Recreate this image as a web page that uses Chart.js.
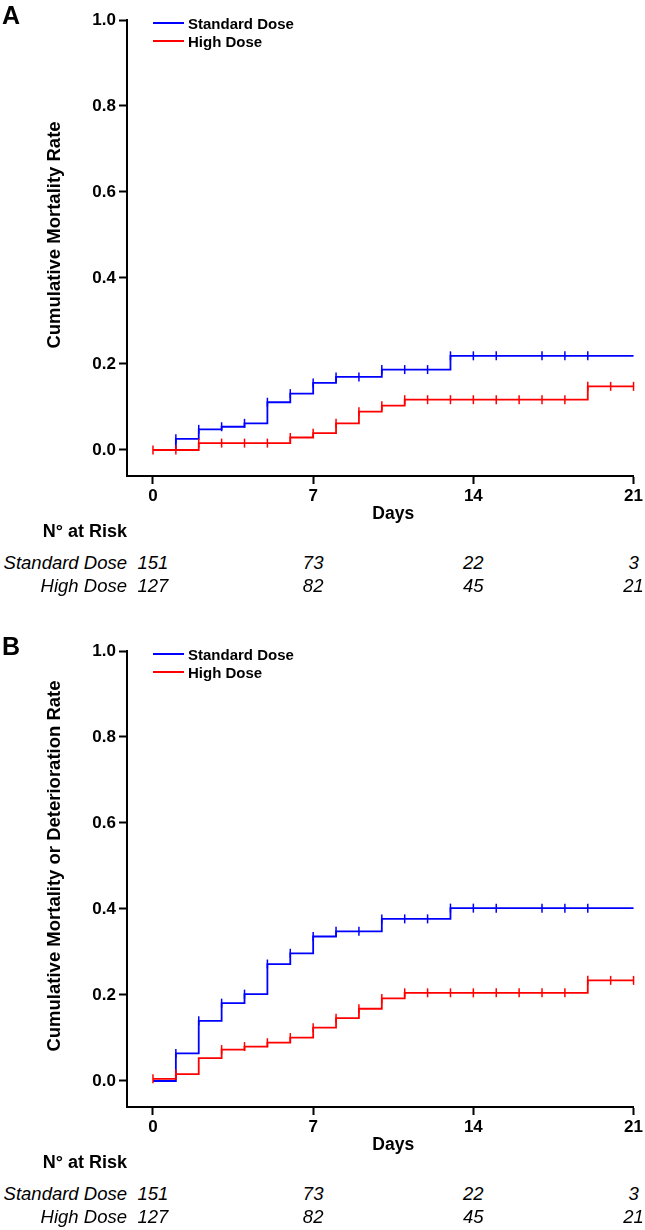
<!DOCTYPE html>
<html>
<head>
<meta charset="utf-8">
<title>Cumulative mortality by dose</title>
<script src="https://cdn.jsdelivr.net/npm/chart.js@4.4.1/dist/chart.umd.min.js"></script>
<style>
  body { margin: 0; background: #fff; color: #000; font-family: "Liberation Sans", Arial, sans-serif; }
  #page { position: relative; width: 645px; height: 1230px; overflow: hidden; }
  .panel { position: absolute; left: 0; width: 645px; height: 600px; }
  .panel canvas { position: absolute; left: 0; top: 0; }
  .letter { position: absolute; left: 2px; top: 2px; font-size: 25px; line-height: 26px; font-weight: bold; }
  .legend-row { position: absolute; left: 153px; height: 18px; display: flex; align-items: center;
                font-size: 15px; font-weight: bold; white-space: nowrap; }
  .legend-row i { display: inline-block; width: 31px; height: 2px; margin-right: 4px; }
  .risk-title { position: absolute; right: 518px; font-size: 18px; line-height: 20px; font-weight: bold; white-space: nowrap; }
  .risk-label { position: absolute; right: 518px; font-size: 18.5px; line-height: 20px; font-style: italic; white-space: nowrap; }
  .risk-num { position: absolute; width: 60px; text-align: center; font-size: 18.5px; line-height: 20px; font-style: italic; }
</style>
</head>
<body>
<div id="page">
  <div class="panel" id="panelA" style="top:0px">
    <canvas id="chartA" width="645" height="530"></canvas>
    <div class="letter">A</div>
  </div>
  <div class="panel" id="panelB" style="top:631px">
    <canvas id="chartB" width="645" height="530"></canvas>
    <div class="letter">B</div>
  </div>
</div>
<script>
// Axis ticks
const xTicks = [0, 7, 14, 21];
const yTicks = [0, 0.2, 0.4, 0.6, 0.8, 1.0];
const seriesNames = ['Standard Dose', 'High Dose'];
const seriesColors = ['#0000ff', '#ff0000'];

// Panel A - cumulative mortality (step times and values)
const stdDaysA = [0, 1, 2, 3, 4, 5, 6, 7, 8, 10, 13, 21];
const stdRateA = [0, 0.026, 0.048, 0.054, 0.062, 0.111, 0.131, 0.156, 0.170, 0.187, 0.219, 0.219];
const stdCensorA = [1, 2, 3, 4, 5, 6, 7, 8, 9, 10, 11, 12, 13, 14, 15, 17, 18, 19];
const highDaysA = [0, 2, 6, 7, 8, 9, 10, 11, 19, 21];
const highRateA = [0, 0.016, 0.029, 0.039, 0.062, 0.089, 0.103, 0.117, 0.148, 0.148];
const highCensorA = [0, 1, 2, 3, 4, 5, 6, 7, 8, 9, 10, 11, 12, 13, 14, 15, 16, 17, 18, 19, 20, 21];

// Panel B - cumulative mortality or deterioration
const stdDaysB = [0, 1, 2, 3, 4, 5, 6, 7, 8, 10, 13, 21];
const stdRateB = [0, 0.064, 0.140, 0.181, 0.202, 0.272, 0.297, 0.336, 0.348, 0.377, 0.402, 0.402];
const stdCensorB = [1, 2, 3, 4, 5, 6, 7, 8, 9, 10, 11, 12, 13, 14, 15, 17, 18, 19];
const highDaysB = [0, 1, 2, 3, 4, 5, 6, 7, 8, 9, 10, 11, 19, 21];
const highRateB = [0.005, 0.016, 0.053, 0.073, 0.080, 0.089, 0.101, 0.124, 0.146, 0.168, 0.192, 0.205, 0.234, 0.234];
const highCensorB = [0, 1, 3, 4, 5, 6, 7, 8, 9, 10, 11, 12, 13, 14, 15, 16, 17, 18, 19, 20, 21];

// Numbers at risk (same table under both panels)
const riskDays = [0, 7, 14, 21];
const riskStandard = [151, 73, 22, 3];
const riskHigh = [127, 82, 45, 21];

const FONT = '"Liberation Sans", Arial, sans-serif';

// value of a step curve at a given day
function rateAt(days, rates, d) {
    let r = rates[0];
    for (let i = 0; i < days.length; i++) {
        if (days[i] <= d) r = rates[i];
    }
    return r;
}

// draws the axis titles centred on the tick range, like the original
const axisTitles = {
    id: 'axisTitles',
    afterDraw(chart, args, opts) {
        const { ctx } = chart;
        const x = chart.scales.x;
        const y = chart.scales.y;
        ctx.save();
        ctx.fillStyle = '#000';
        ctx.textAlign = 'center';
        ctx.textBaseline = 'middle';

        const yMid = (y.getPixelForValue(yTicks[0]) + y.getPixelForValue(yTicks[yTicks.length - 1])) / 2;
        ctx.font = 'bold 18.5px ' + FONT;
        ctx.translate(55, yMid);
        ctx.rotate(-Math.PI / 2);
        ctx.fillText(opts.yText, 0, 0);
        ctx.setTransform(1, 0, 0, 1, 0, 0);

        const xMid = (x.getPixelForValue(xTicks[0]) + x.getPixelForValue(xTicks[xTicks.length - 1])) / 2;
        ctx.font = 'bold 17.5px ' + FONT;
        ctx.fillText('Days', xMid, x.top + 38);
        ctx.restore();
    }
};

function buildPanel(panelId, canvasId, yText, series) {
    const datasets = [];
    series.forEach((s, i) => {
        // later series (High Dose) sits on top, lower order = drawn last
        const order = (series.length - 1 - i) * 2;
        datasets.push({
            label: s.label,
            data: s.days.map((d, k) => ({ x: d, y: s.rates[k] })),
            showLine: true,
            stepped: true,
            borderColor: s.color,
            borderWidth: 1.8,
            pointRadius: 0,
            fill: false,
            order: order + 1,
            clip: 4
        });
        datasets.push({
            label: s.label + ' censored',
            data: s.censor.map(d => ({ x: d, y: rateAt(s.days, s.rates, d) })),
            showLine: false,
            pointStyle: 'line',
            rotation: 90,
            pointRadius: 4.5,
            borderColor: s.color,
            borderWidth: 1.5,
            order: order,
            clip: false
        });
    });

    const chart = new Chart(document.getElementById(canvasId), {
        type: 'scatter',
        data: { datasets },
        options: {
            responsive: false,
            animation: false,
            events: [],
            layout: { padding: { left: 0, right: 11, top: 20, bottom: 0 } },
            plugins: {
                legend: { display: false },
                tooltip: { enabled: false },
                axisTitles: { yText }
            },
            scales: {
                x: {
                    type: 'linear',
                    min: -1.135,
                    max: 21,
                    afterBuildTicks: scale => { scale.ticks = xTicks.map(v => ({ value: v })); },
                    afterFit: scale => { scale.height = 54; },
                    border: { display: true, color: '#000', width: 2 },
                    grid: { display: true, drawOnChartArea: false, drawTicks: true, tickLength: 8, tickColor: '#000', tickWidth: 2 },
                    ticks: {
                        color: '#000',
                        padding: 2,
                        maxRotation: 0,
                        font: { family: FONT, size: 17, weight: 'bold' },
                        callback: v => String(v)
                    }
                },
                y: {
                    type: 'linear',
                    min: -0.0605,
                    max: 1.0,
                    afterBuildTicks: scale => { scale.ticks = yTicks.map(v => ({ value: v })); },
                    afterFit: scale => { scale.width = 127; },
                    border: { display: true, color: '#000', width: 2 },
                    grid: { display: true, drawOnChartArea: false, drawTicks: true, tickLength: 8, tickColor: '#000', tickWidth: 2 },
                    ticks: {
                        color: '#000',
                        padding: 3,
                        font: { family: FONT, size: 17, weight: 'bold' },
                        callback: v => v.toFixed(1)
                    }
                }
            }
        },
        plugins: [axisTitles]
    });

    const panel = document.getElementById(panelId);

    // legend
    series.forEach((s, i) => {
        const row = document.createElement('div');
        row.className = 'legend-row';
        row.style.top = (14 + i * 18) + 'px';
        row.innerHTML = `<i style="background:${s.color}"></i>${s.label}`;
        panel.appendChild(row);
    });

    // number at risk table
    const title = document.createElement('div');
    title.className = 'risk-title';
    title.style.top = '521px';
    title.textContent = 'N° at Risk';
    panel.appendChild(title);

    const rows = [riskStandard, riskHigh];
    rows.forEach((counts, r) => {
        const top = 553 + r * 23;
        const label = document.createElement('div');
        label.className = 'risk-label';
        label.style.top = top + 'px';
        label.textContent = seriesNames[r];
        panel.appendChild(label);

        counts.forEach((n, k) => {
            const cell = document.createElement('div');
            cell.className = 'risk-num';
            cell.style.top = top + 'px';
            cell.style.left = (chart.scales.x.getPixelForValue(riskDays[k]) - 30) + 'px';
            cell.textContent = n;
            panel.appendChild(cell);
        });
    });
    return chart;
}

document.addEventListener('DOMContentLoaded', () => {
    buildPanel('panelA', 'chartA', 'Cumulative Mortality Rate', [
        { label: seriesNames[0], color: seriesColors[0], days: stdDaysA, rates: stdRateA, censor: stdCensorA },
        { label: seriesNames[1], color: seriesColors[1], days: highDaysA, rates: highRateA, censor: highCensorA }
    ]);
    buildPanel('panelB', 'chartB', 'Cumulative Mortality or Deterioration Rate', [
        { label: seriesNames[0], color: seriesColors[0], days: stdDaysB, rates: stdRateB, censor: stdCensorB },
        { label: seriesNames[1], color: seriesColors[1], days: highDaysB, rates: highRateB, censor: highCensorB }
    ]);
});
</script>
</body>
</html>
